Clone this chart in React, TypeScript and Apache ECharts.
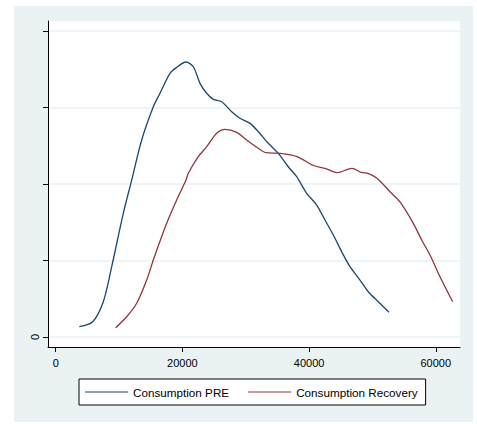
import React, { useEffect, useRef } from 'react';
import * as echarts from 'echarts';

const seriesNames = ['Consumption PRE', 'Consumption Recovery'];

const preX = [3725, 5840, 7514, 8840, 10671, 11997, 13575, 15406, 16464, 18042, 19100, 20568, 21720, 22778, 23836, 24877, 26204, 27782, 29093, 30671, 31981, 33560, 35138, 36716, 38042, 39620, 41199, 42509, 43820, 45145, 46455, 48034, 49344, 50923, 52612];
const preY = [0.135, 0.2, 0.461, 0.919, 1.617, 2.052, 2.575, 3.01, 3.186, 3.447, 3.525, 3.595, 3.533, 3.316, 3.186, 3.107, 3.076, 2.945, 2.859, 2.793, 2.684, 2.532, 2.401, 2.226, 2.095, 1.878, 1.725, 1.529, 1.333, 1.115, 0.919, 0.745, 0.592, 0.461, 0.323];

const recX = [9471, 11207, 12786, 14364, 15406, 17521, 19100, 20568, 20931, 22509, 23836, 25414, 26724, 28571, 30150, 31728, 33196, 35454, 38089, 40694, 42825, 44404, 46771, 48192, 49376, 50718, 52770, 54348, 56448, 57774, 59084, 60663, 62667];
const recY = [0.122, 0.265, 0.441, 0.745, 1.007, 1.486, 1.791, 2.052, 2.14, 2.357, 2.488, 2.663, 2.715, 2.676, 2.575, 2.48, 2.409, 2.401, 2.359, 2.242, 2.196, 2.148, 2.205, 2.153, 2.137, 2.075, 1.899, 1.765, 1.486, 1.268, 1.072, 0.788, 0.461];

const xTicks = [0, 20000, 40000, 60000];
const yTicks = [0, 1, 2, 3, 4];
const yLabels = ['0', '', '', '', ''];

const FONT = '"Liberation Sans", Arial, sans-serif';
const LINE_ICON = 'path://M0,0H43V1.2H0Z';

export default function App() {
  const ref = useRef<HTMLDivElement>(null);
  useEffect(() => {
    if (!ref.current) return;
    const chart = echarts.init(ref.current, undefined, { renderer: 'svg' });
    const toPairs = (xs: number[], ys: number[]) => xs.map((x, i) => [x, ys[i]]);
    chart.setOption({
      animation: false,
      backgroundColor: '#ffffff',
      textStyle: { fontFamily: FONT },
      graphic: [
        {
          type: 'rect',
          z: -100,
          silent: true,
          shape: { x: 14, y: 6, width: 459, height: 416 },
          style: { fill: '#eaf2f3' },
        },
      ],
      grid: {
        left: 48,
        top: 21,
        width: 412,
        height: 326,
        show: true,
        backgroundColor: '#ffffff',
        borderWidth: 0,
        containLabel: false,
      },
      xAxis: {
        type: 'value',
        min: -1215,
        max: 63820,
        axisLine: { show: true, onZero: false, lineStyle: { color: '#000', width: 1 } },
        axisTick: { show: true, length: 5, customValues: xTicks, lineStyle: { color: '#000' } },
        axisLabel: {
          customValues: xTicks,
          color: '#000',
          fontSize: 11,
          fontFamily: FONT,
          margin: 10,
          formatter: (v: number) => String(v),
        },
        splitLine: { show: false },
      },
      yAxis: {
        type: 'value',
        min: -0.1307,
        max: 4.131,
        axisLine: { show: true, onZero: false, lineStyle: { color: '#000', width: 1 } },
        axisTick: { show: true, length: 5, customValues: yTicks, lineStyle: { color: '#000' } },
        axisLabel: {
          customValues: yTicks,
          color: '#000',
          fontSize: 11,
          fontFamily: FONT,
          rotate: 90,
          margin: 8,
          formatter: (v: number) => yLabels[yTicks.indexOf(Math.round(v))] ?? '',
        },
        splitLine: { show: true, lineStyle: { color: '#eaf2f3', width: 1.5 } },
      },
      legend: {
        left: 79,
        top: 379,
        orient: 'horizontal',
        backgroundColor: '#ffffff',
        borderColor: '#000',
        borderWidth: 1,
        padding: [7, 8, 7, 6],
        itemGap: 19,
        itemWidth: 43,
        itemHeight: 14,
        icon: LINE_ICON,
        textStyle: { color: '#000', fontSize: 11.7, fontFamily: FONT },
        data: seriesNames,
      },
      series: [
        {
          name: seriesNames[0],
          type: 'line',
          data: toPairs(preX, preY),
          smooth: 0.3,
          symbol: 'none',
          lineStyle: { color: '#1a476f', width: 1.3 },
          itemStyle: { color: '#1a476f' },
        },
        {
          name: seriesNames[1],
          type: 'line',
          data: toPairs(recX, recY),
          smooth: 0.3,
          symbol: 'none',
          lineStyle: { color: '#90353b', width: 1.3 },
          itemStyle: { color: '#90353b' },
        },
      ],
    });
    return () => chart.dispose();
  }, []);
  return (
    <div
      ref={ref}
      style={{ position: 'fixed', left: 0, top: 0, width: 477, height: 424 }}
    />
  );
}
